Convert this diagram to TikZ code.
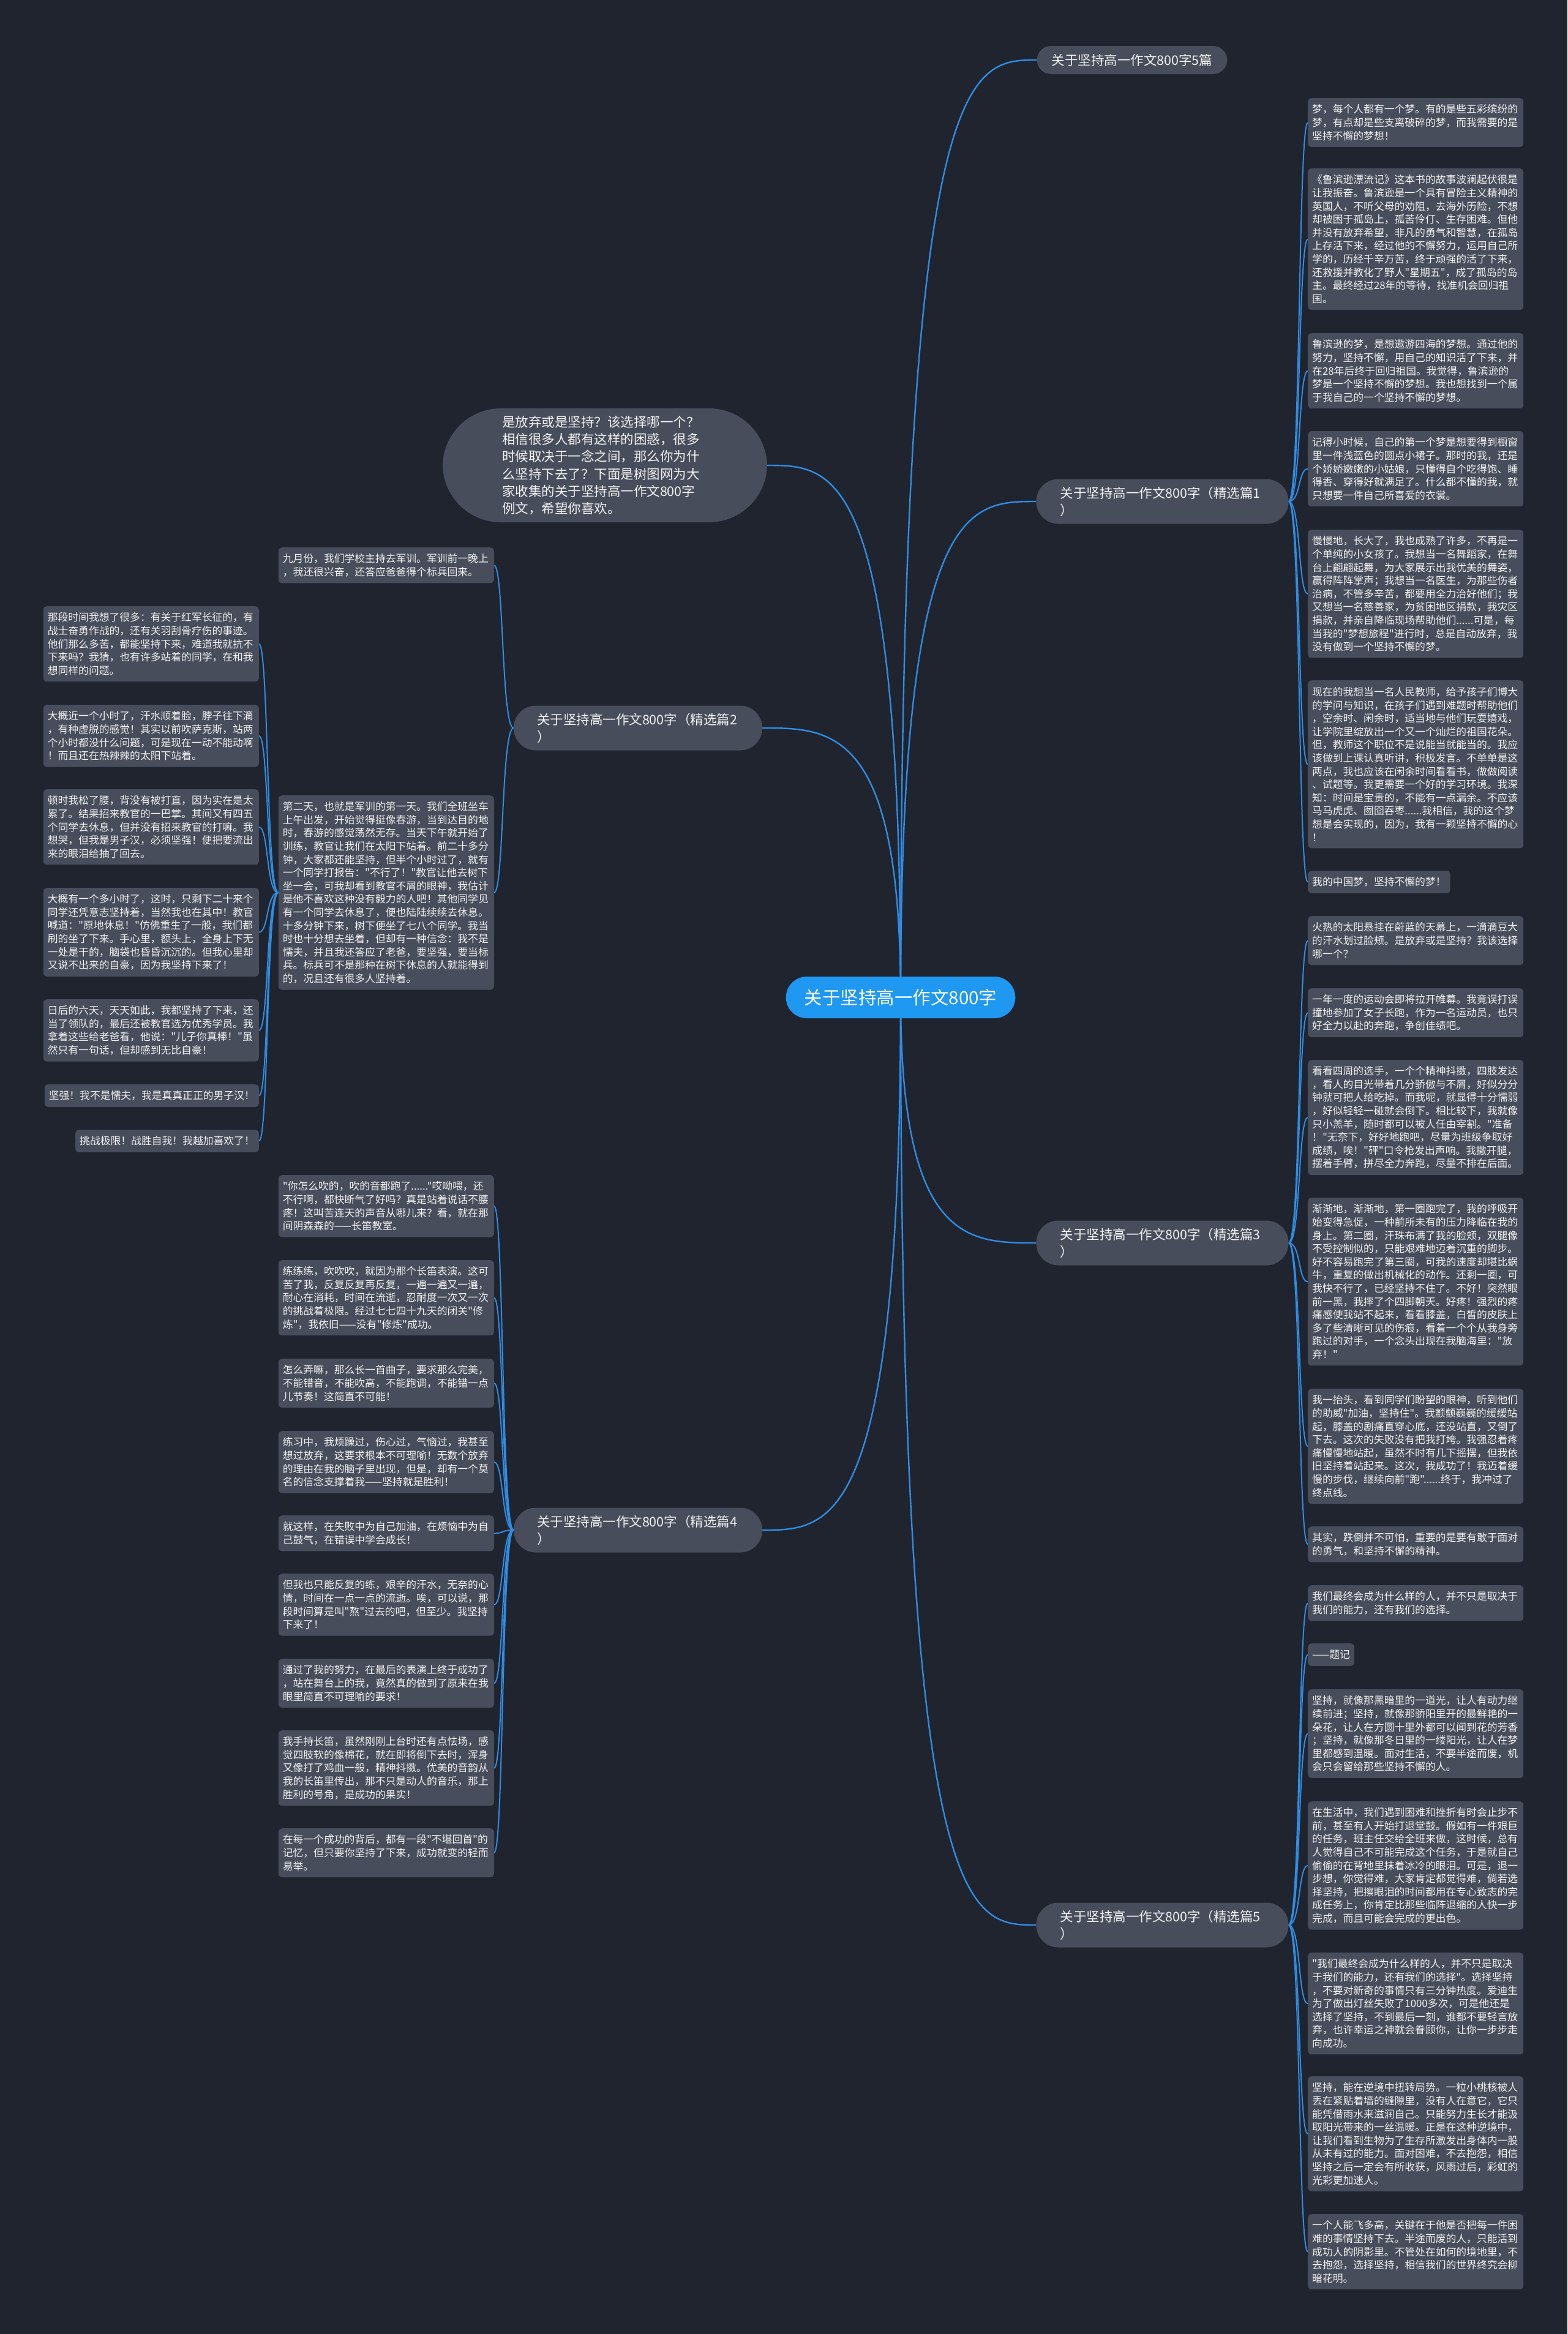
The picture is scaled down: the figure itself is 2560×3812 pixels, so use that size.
\documentclass[tikz,border=0pt]{standalone}
\usepackage{fontspec}
\newfontfamily\cjk{Noto Sans CJK SC}
\usetikzlibrary{calc}
\pgfdeclarelayer{bg}
\pgfsetlayers{bg,main}
\definecolor{bgc}{HTML}{20242F}
\definecolor{nodec}{HTML}{474D5B}
\definecolor{linec}{HTML}{2F8DE4}
\definecolor{rootc}{HTML}{1E98F0}
\definecolor{txtc}{HTML}{F2F2F2}
\begin{document}
\begin{tikzpicture}[x=1pt,y=-1pt,
  leaf/.style={fill=nodec, text=txtc, rounded corners=6pt, align=left, inner xsep=7pt, inner ysep=2pt, font=\cjk\fontsize{16.8}{21.6}\selectfont},
  wide/.style={text width=338pt},
  leafR/.style={leaf, anchor=north west},
  leafL/.style={leaf, anchor=north east},
  nl/.style={minimum height={#1*21.6pt+15pt}},
  branch/.style={fill=nodec, text=txtc, rounded corners=36pt, align=left, font=\cjk\fontsize{21.5}{28}\selectfont, inner ysep=2pt, minimum height=73pt},
  branchone/.style={fill=nodec, text=txtc, rounded corners=23pt, font=\cjk\fontsize{21.5}{28}\selectfont, inner xsep=24pt, inner ysep=2pt, minimum height=46pt},
  rootnode/.style={fill=rootc, text=white, rounded corners=34pt, font=\cjk\fontsize{29.5}{35}\selectfont, inner xsep=30pt, inner ysep=2pt, minimum height=68pt},
  intronode/.style={fill=nodec, text=txtc, rounded corners=95pt, align=left, text width=336pt, inner xsep=97pt, inner ysep=12pt, font=\cjk\fontsize{21.5}{28.3}\selectfont},
  mainline/.style={draw=linec, line width=2.4pt},
  leafline/.style={draw=linec, line width=2pt}
]
\useasboundingbox (0,0) rectangle (2560,3812);
\begin{pgfonlayer}{bg}
\fill[bgc] (0,0) rectangle (2560,3812);
\end{pgfonlayer}

% root and first level
\node[rootnode] (root) at (1471,1629) {关于坚持高一作文800字};
\node[intronode] (intro) at (988,760) {是放弃或是坚持？该选择哪一个？\\相信很多人都有这样的困惑，很多\\时候取决于一念之间，那么你为什\\么坚持下去了？下面是树图网为大\\家收集的关于坚持高一作文800字\\例文，希望你喜欢。};
\node[branchone] (b0) at (1849,98) {关于坚持高一作文800字5篇};
\node[branch, text width=334pt, inner xsep=39pt] (b1) at (1898.5,819) {关于坚持高一作文800字（精选篇1\\）};
\node[branch, text width=334pt, inner xsep=39pt] (b3) at (1898.5,2030) {关于坚持高一作文800字（精选篇3\\）};
\node[branch, text width=334pt, inner xsep=39pt] (b5) at (1898.5,3144) {关于坚持高一作文800字（精选篇5\\）};
\node[branch, text width=330pt, inner xsep=38pt] (b2) at (1042,1189) {关于坚持高一作文800字（精选篇2\\）};
\node[branch, text width=330pt, inner xsep=38pt] (b4) at (1042,2499) {关于坚持高一作文800字（精选篇4\\）};

% branch 1 leaves
\node[leafR, wide, nl=3] (l1) at (2136,160) {梦，每个人都有一个梦。有的是些五彩缤纷的\\梦，有点却是些支离破碎的梦，而我需要的是\\坚持不懈的梦想！};
\node[leafR, wide, nl=10] (l2) at (2136,275) {《鲁滨逊漂流记》这本书的故事波澜起伏很是\\让我振奋。鲁滨逊是一个具有冒险主义精神的\\英国人，不听父母的劝阻，去海外历险，不想\\却被困于孤岛上，孤苦伶仃、生存困难。但他\\并没有放弃希望，非凡的勇气和智慧，在孤岛\\上存活下来，经过他的不懈努力，运用自己所\\学的，历经千辛万苦，终于顽强的活了下来，\\还救援并教化了野人"星期五"，成了孤岛的岛\\主。最终经过28年的等待，找准机会回归祖\\国。};
\node[leafR, wide, nl=5] (l3) at (2136,544) {鲁滨逊的梦，是想遨游四海的梦想。通过他的\\努力，坚持不懈，用自己的知识活了下来，并\\在28年后终于回归祖国。我觉得，鲁滨逊的\\梦是一个坚持不懈的梦想。我也想找到一个属\\于我自己的一个坚持不懈的梦想。};
\node[leafR, wide, nl=5] (l4) at (2136,704) {记得小时候，自己的第一个梦是想要得到橱窗\\里一件浅蓝色的圆点小裙子。那时的我，还是\\个娇娇嫩嫩的小姑娘，只懂得自个吃得饱、睡\\得香、穿得好就满足了。什么都不懂的我，就\\只想要一件自己所喜爱的衣裳。};
\node[leafR, wide, nl=9] (l5) at (2136,865) {慢慢地，长大了，我也成熟了许多，不再是一\\个单纯的小女孩了。我想当一名舞蹈家，在舞\\台上翩翩起舞，为大家展示出我优美的舞姿，\\赢得阵阵掌声；我想当一名医生，为那些伤者\\治病，不管多辛苦，都要用全力治好他们；我\\又想当一名慈善家，为贫困地区捐款，我灾区\\捐款，并亲自降临现场帮助他们......可是，每\\当我的"梦想旅程"进行时，总是自动放弃，我\\没有做到一个坚持不懈的梦。};
\node[leafR, wide, nl=12] (l6) at (2136,1111) {现在的我想当一名人民教师，给予孩子们博大\\的学问与知识，在孩子们遇到难题时帮助他们\\，空余时、闲余时，适当地与他们玩耍嬉戏，\\让学院里绽放出一个又一个灿烂的祖国花朵。\\但，教师这个职位不是说能当就能当的。我应\\该做到上课认真听讲，积极发言。不单单是这\\两点，我也应该在闲余时间看看书，做做阅读\\、试题等。我更需要一个好的学习环境。我深\\知：时间是宝贵的，不能有一点漏余。不应该\\马马虎虎、囫囵吞枣......我相信，我的这个梦\\想是会实现的，因为，我有一颗坚持不懈的心\\！};
\node[leafR, nl=1] (l7) at (2136,1422) {我的中国梦，坚持不懈的梦！};

% branch 3 leaves
\node[leafR, wide, nl=3] (m1) at (2136,1496) {火热的太阳悬挂在蔚蓝的天幕上，一滴滴豆大\\的汗水划过脸颊。是放弃或是坚持？我该选择\\哪一个？};
\node[leafR, wide, nl=3] (m2) at (2136,1614) {一年一度的运动会即将拉开帷幕。我竟误打误\\撞地参加了女子长跑，作为一名运动员，也只\\好全力以赴的奔跑，争创佳绩吧。};
\node[leafR, wide, nl=8] (m3) at (2136,1731) {看看四周的选手，一个个精神抖擞，四肢发达\\，看人的目光带着几分骄傲与不屑，好似分分\\钟就可把人给吃掉。而我呢，就显得十分懦弱\\，好似轻轻一碰就会倒下。相比较下，我就像\\只小羔羊，随时都可以被人任由宰割。"准备\\！"无奈下，好好地跑吧，尽量为班级争取好\\成绩，唉！"砰"口令枪发出声响。我撒开腿，\\摆着手臂，拼尽全力奔跑，尽量不排在后面。};
\node[leafR, wide, nl=12] (m4) at (2136,1956) {渐渐地，渐渐地，第一圈跑完了，我的呼吸开\\始变得急促，一种前所未有的压力降临在我的\\身上。第二圈，汗珠布满了我的脸颊，双腿像\\不受控制似的，只能艰难地迈着沉重的脚步。\\好不容易跑完了第三圈，可我的速度却堪比蜗\\牛，重复的做出机械化的动作。还剩一圈，可\\我快不行了，已经坚持不住了。不好！突然眼\\前一黑，我摔了个四脚朝天。好疼！强烈的疼\\痛感使我站不起来，看看膝盖，白皙的皮肤上\\多了些清晰可见的伤痕，看着一个个从我身旁\\跑过的对手，一个念头出现在我脑海里："放\\弃！"};
\node[leafR, wide, nl=8] (m5) at (2136,2268) {我一抬头，看到同学们盼望的眼神，听到他们\\的助威"加油，坚持住"。我颤颤巍巍的缓缓站\\起，膝盖的剧痛直穿心底，还没站直，又倒了\\下去。这次的失败没有把我打垮。我强忍着疼\\痛慢慢地站起，虽然不时有几下摇摆，但我依\\旧坚持着站起来。这次，我成功了！我迈着缓\\慢的步伐，继续向前"跑"......终于，我冲过了\\终点线。};
\node[leafR, wide, nl=2] (m6) at (2136,2493) {其实，跌倒并不可怕，重要的是要有敢于面对\\的勇气，和坚持不懈的精神。};

% branch 5 leaves
\node[leafR, wide, nl=2] (n1) at (2136,2589) {我们最终会成为什么样的人，并不只是取决于\\我们的能力，还有我们的选择。};
\node[leafR, nl=1] (n2) at (2136,2684) {——题记};
\node[leafR, wide, nl=6] (n3) at (2136,2759) {坚持，就像那黑暗里的一道光，让人有动力继\\续前进；坚持，就像那骄阳里开的最鲜艳的一\\朵花，让人在方圆十里外都可以闻到花的芳香\\；坚持，就像那冬日里的一缕阳光，让人在梦\\里都感到温暖。面对生活，不要半途而废，机\\会只会留给那些坚持不懈的人。};
\node[leafR, wide, nl=9] (n4) at (2136,2942) {在生活中，我们遇到困难和挫折有时会止步不\\前，甚至有人开始打退堂鼓。假如有一件艰巨\\的任务，班主任交给全班来做，这时候，总有\\人觉得自己不可能完成这个任务，于是就自己\\偷偷的在背地里抹着冰冷的眼泪。可是，退一\\步想，你觉得难，大家肯定都觉得难，倘若选\\择坚持，把擦眼泪的时间都用在专心致志的完\\成任务上，你肯定比那些临阵退缩的人快一步\\完成，而且可能会完成的更出色。};
\node[leafR, wide, nl=7] (n5) at (2136,3189) {"我们最终会成为什么样的人，并不只是取决\\于我们的能力，还有我们的选择"。选择坚持\\，不要对新奇的事情只有三分钟热度。爱迪生\\为了做出灯丝失败了1000多次，可是他还是\\选择了坚持，不到最后一刻，谁都不要轻言放\\弃，也许幸运之神就会眷顾你，让你一步步走\\向成功。};
\node[leafR, wide, nl=8] (n6) at (2136,3391) {坚持，能在逆境中扭转局势。一粒小桃核被人\\丢在紧贴着墙的缝隙里，没有人在意它，它只\\能凭借雨水来滋润自己。只能努力生长才能汲\\取阳光带来的一丝温暖。正是在这种逆境中，\\让我们看到生物为了生存所激发出身体内一股\\从未有过的能力。面对困难，不去抱怨，相信\\坚持之后一定会有所收获，风雨过后，彩虹的\\光彩更加迷人。};
\node[leafR, wide, nl=5] (n7) at (2136,3616) {一个人能飞多高，关键在于他是否把每一件困\\难的事情坚持下去。半途而废的人，只能活到\\成功人的阴影里。不管处在如何的境地里，不\\去抱怨，选择坚持，相信我们的世界终究会柳\\暗花明。};

% branch 4 leaves
\node[leafL, wide, nl=4] (p1) at (807,1919) {"你怎么吹的，吹的音都跑了......"哎呦喂，还\\不行啊，都快断气了好吗？真是站着说话不腰\\疼！这叫苦连天的声音从哪儿来？看，就在那\\间阴森森的——长笛教室。};
\node[leafL, wide, nl=5] (p2) at (807,2058) {练练练，吹吹吹，就因为那个长笛表演。这可\\苦了我，反复反复再反复，一遍一遍又一遍，\\耐心在消耗，时间在流逝，忍耐度一次又一次\\的挑战着极限。经过七七四十九天的闭关"修\\炼"，我依旧——没有"修炼"成功。};
\node[leafL, wide, nl=3] (p3) at (807,2219) {怎么弄嘛，那么长一首曲子，要求那么完美，\\不能错音，不能吹高，不能跑调，不能错一点\\儿节奏！这简直不可能！};
\node[leafL, wide, nl=4] (p4) at (807,2337) {练习中，我烦躁过，伤心过，气恼过，我甚至\\想过放弃，这要求根本不可理喻！无数个放弃\\的理由在我的脑子里出现，但是，却有一个莫\\名的信念支撑着我——坚持就是胜利！};
\node[leafL, wide, nl=2] (p5) at (807,2475) {就这样，在失败中为自己加油，在烦恼中为自\\己鼓气，在错误中学会成长！};
\node[leafL, wide, nl=4] (p6) at (807,2570) {但我也只能反复的练，艰辛的汗水，无奈的心\\情，时间在一点一点的流逝。唉，可以说，那\\段时间算是叫"熬"过去的吧，但至少。我坚持\\下来了！};
\node[leafL, wide, nl=3] (p7) at (807,2709) {通过了我的努力，在最后的表演上终于成功了\\，站在舞台上的我，竟然真的做到了原来在我\\眼里简直不可理喻的要求！};
\node[leafL, wide, nl=5] (p8) at (807,2826) {我手持长笛，虽然刚刚上台时还有点怯场，感\\觉四肢软的像棉花，就在即将倒下去时，浑身\\又像打了鸡血一般，精神抖擞。优美的音韵从\\我的长笛里传出，那不只是动人的音乐，那上\\胜利的号角，是成功的果实！};
\node[leafL, wide, nl=3] (p9) at (807,2986) {在每一个成功的背后，都有一段"不堪回首"的\\记忆，但只要你坚持了下来，成功就变的轻而\\易举。};

% branch 2 leaves
\node[leafL, wide, nl=2] (q1) at (807,894) {九月份，我们学校主持去军训。军训前一晚上\\，我还很兴奋，还答应爸爸得个标兵回来。};
\node[leafL, wide, nl=14] (q2) at (807,1299) {第二天，也就是军训的第一天。我们全班坐车\\上午出发，开始觉得挺像春游，当到达目的地\\时，春游的感觉荡然无存。当天下午就开始了\\训练，教官让我们在太阳下站着。前二十多分\\钟，大家都还能坚持，但半个小时过了，就有\\一个同学打报告："不行了！"教官让他去树下\\坐一会，可我却看到教官不屑的眼神，我估计\\是他不喜欢这种没有毅力的人吧！其他同学见\\有一个同学去休息了，便也陆陆续续去休息。\\十多分钟下来，树下便坐了七八个同学。我当\\时也十分想去坐着，但却有一种信念：我不是\\懦夫，并且我还答应了老爸，要坚强，要当标\\兵。标兵可不是那种在树下休息的人就能得到\\的，况且还有很多人坚持着。};

% children of q2
\node[leafL, wide, nl=5] (r1) at (423,990) {那段时间我想了很多：有关于红军长征的，有\\战士奋勇作战的，还有关羽刮骨疗伤的事迹。\\他们那么多苦，都能坚持下来，难道我就抗不\\下来吗？我猜，也有许多站着的同学，在和我\\想同样的问题。};
\node[leafL, wide, nl=4] (r2) at (423,1151) {大概近一个小时了，汗水顺着脸，脖子往下滴\\，有种虚脱的感觉！其实以前吹萨克斯，站两\\个小时都没什么问题，可是现在一动不能动啊\\！而且还在热辣辣的太阳下站着。};
\node[leafL, wide, nl=5] (r3) at (423,1289) {顿时我松了腰，背没有被打直，因为实在是太\\累了。结果招来教官的一巴掌。其间又有四五\\个同学去休息，但并没有招来教官的打嘛。我\\想哭，但我是男子汉，必须坚强！便把要流出\\来的眼泪给抽了回去。};
\node[leafL, wide, nl=6] (r4) at (423,1450) {大概有一个多小时了，这时，只剩下二十来个\\同学还凭意志坚持着，当然我也在其中！教官\\喊道："原地休息！"仿佛重生了一般，我们都\\刷的坐了下来。手心里，额头上，全身上下无\\一处是干的，脑袋也昏昏沉沉的。但我心里却\\又说不出来的自豪，因为我坚持下来了！};
\node[leafL, wide, nl=4] (r5) at (423,1632) {日后的六天，天天如此，我都坚持了下来，还\\当了领队的，最后还被教官选为优秀学员。我\\拿着这些给老爸看，他说："儿子你真棒！"虽\\然只有一句话，但却感到无比自豪！};
\node[leafL, nl=1] (r6) at (423,1771) {坚强！我不是懦夫，我是真真正正的男子汉！};
\node[leafL, nl=1] (r7) at (423,1845) {挑战极限！战胜自我！我越加喜欢了！};

% connectors
\begin{pgfonlayer}{bg}
\foreach \b in {b0,b1,b3,b5}{
  \draw[mainline] (root.center) .. controls (root.center |- \b.west) and ($(root.center |- \b.west)!0.5!(\b.west)$) .. (\b.west);
}
\foreach \b in {b2,b4,intro}{
  \draw[mainline] (root.center) .. controls (root.center |- \b.east) and ($(root.center |- \b.east)!0.5!(\b.east)$) .. (\b.east);
}
\foreach \l in {l1,l2,l3,l4,l5,l6,l7}{
  \draw[leafline] (b1.east) .. controls +(20,0) and +(-16,0) .. (\l.west);
}
\foreach \l in {m1,m2,m3,m4,m5,m6}{
  \draw[leafline] (b3.east) .. controls +(20,0) and +(-16,0) .. (\l.west);
}
\foreach \l in {n1,n2,n3,n4,n5,n6,n7}{
  \draw[leafline] (b5.east) .. controls +(20,0) and +(-16,0) .. (\l.west);
}
\foreach \l in {p1,p2,p3,p4,p5,p6,p7,p8,p9}{
  \draw[leafline] (b4.west) .. controls +(-20,0) and +(16,0) .. (\l.east);
}
\foreach \l in {q1,q2}{
  \draw[leafline] (b2.west) .. controls +(-20,0) and +(16,0) .. (\l.east);
}
\foreach \l in {r1,r2,r3,r4,r5,r6,r7}{
  \draw[leafline] (q2.west) .. controls +(-20,0) and +(16,0) .. (\l.east);
}
\end{pgfonlayer}
\end{tikzpicture}
\end{document}
